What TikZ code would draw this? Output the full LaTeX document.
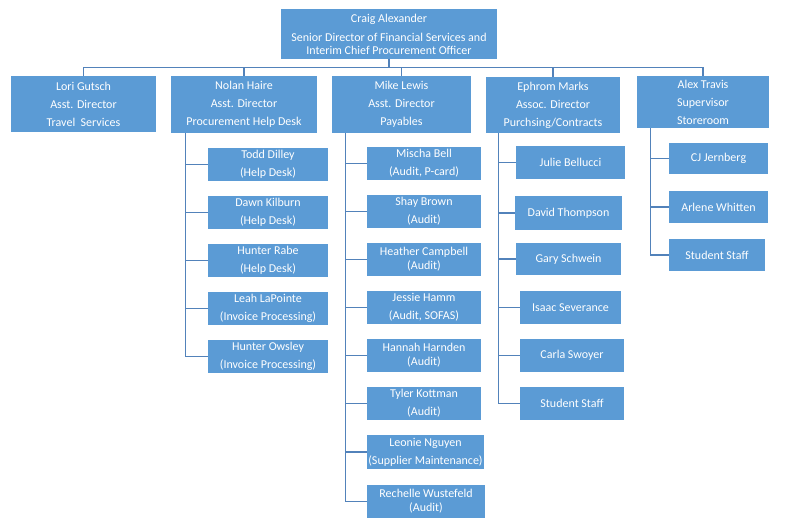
\documentclass[tikz,border=0pt]{standalone}
\usepackage{fontspec}
\setmainfont{Carlito}
\definecolor{cardblue}{HTML}{5B9BD5}
\definecolor{linkblue}{HTML}{5282BA}
\tikzset{
  card/.style={fill=cardblue, text=white, align=center, inner sep=0pt,
    font=\fontsize{12}{18}\selectfont},
  tight/.style={font=\fontsize{12}{14}\selectfont},
  link/.style={draw=linkblue, line width=1.2pt}
}
\begin{document}
\begin{tikzpicture}[x=1pt,y=-1pt]
\useasboundingbox[fill=white] (0,0) rectangle (786,531);

% top
\node[card, minimum width=216, minimum height=50, font=\fontsize{12}{13}\selectfont] (craig) at (389,34)
{Craig Alexander\\[6pt]Senior Director of Financial Services and\\Interim Chief Procurement Officer};

% directors
\node[card, minimum width=145, minimum height=56] (lori) at (83.5,104)
{Lori Gutsch\\Asst. Director\\Travel~~Services};
\node[card, minimum width=146, minimum height=57] (nolan) at (244,104.5)
{Nolan Haire\\Asst. Director\\Procurement Help Desk};
\node[card, minimum width=139, minimum height=57] (mike) at (401.5,104.5)
{Mike Lewis\\Asst. Director\\Payables};
\node[card, minimum width=134, minimum height=56] (ephrom) at (553,105)
{Ephrom Marks\\Assoc. Director\\Purchsing/Contracts};
\node[card, minimum width=132, minimum height=52] (alex) at (703,102)
{Alex Travis\\Supervisor\\Storeroom};

% help desk
\node[card, minimum width=120, minimum height=33] (todd) at (268,164.5) {Todd Dilley\\(Help Desk)};
\node[card, minimum width=120, minimum height=33] (dawn) at (268,212.5) {Dawn Kilburn\\(Help Desk)};
\node[card, minimum width=120, minimum height=33] (rabe) at (268,260.5) {Hunter Rabe\\(Help Desk)};
\node[card, minimum width=120, minimum height=33] (leah) at (268,308.5) {Leah LaPointe\\(Invoice Processing)};
\node[card, minimum width=120, minimum height=33] (owsley) at (268,356.5) {Hunter Owsley\\(Invoice Processing)};

% payables
\node[card, minimum width=114, minimum height=33] (mischa) at (424,163.5) {Mischa Bell\\(Audit, P-card)};
\node[card, minimum width=114, minimum height=33] (shay) at (424,211.5) {Shay Brown\\(Audit)};
\node[card, tight, minimum width=114, minimum height=33] (heather) at (424,259.5) {Heather Campbell\\(Audit)};
\node[card, minimum width=114, minimum height=33] (jessie) at (424,307.5) {Jessie Hamm\\(Audit, SOFAS)};
\node[card, tight, minimum width=114, minimum height=33] (hannah) at (424,355.5) {Hannah Harnden\\(Audit)};
\node[card, minimum width=114, minimum height=33] (tyler) at (424,403.5) {Tyler Kottman\\(Audit)};
\node[card, minimum width=117, minimum height=34] (leonie) at (425.5,452) {Leonie Nguyen\\(Supplier Maintenance)};
\node[card, tight, minimum width=118, minimum height=33] (rechelle) at (426,501.5) {Rechelle Wustefeld\\(Audit)};

% contracts
\node[card, minimum width=109, minimum height=33] (julie) at (570.5,162.5) {Julie Bellucci};
\node[card, minimum width=107, minimum height=34] (david) at (568.5,213) {David Thompson};
\node[card, minimum width=105, minimum height=32] (gary) at (568.5,259) {Gary Schwein};
\node[card, minimum width=101, minimum height=33] (isaac) at (570.5,307.5) {Isaac Severance};
\node[card, minimum width=104, minimum height=33] (carla) at (572,355.5) {Carla Swoyer};
\node[card, minimum width=104, minimum height=33] (pstaff) at (572,403.5) {Student Staff};

% storeroom
\node[card, minimum width=99, minimum height=31] (cj) at (718.5,158.5) {CJ Jernberg};
\node[card, minimum width=99, minimum height=32] (arlene) at (718.5,207) {Arlene Whitten};
\node[card, minimum width=96, minimum height=32] (sstaff) at (717,255) {Student Staff};

% top bus
\draw[link] (craig.south) -- ++(0,8) -| (lori.north);
\draw[link] (craig.south) -- ++(0,8) -| (nolan.north);
\draw[link] (craig.south) -- ++(0,8) -| (mike.north);
\draw[link] (craig.south) -- ++(0,8) -| (ephrom.north);
\draw[link] (craig.south) -- ++(0,8) -| (alex.north);

% staff lines
\foreach \n in {todd,dawn,rabe,leah,owsley}
  \draw[link] ([xshift=15]nolan.south west) |- (\n.west);
\foreach \n in {mischa,shay,heather,jessie,hannah,tyler,leonie,rechelle}
  \draw[link] ([xshift=14]mike.south west) |- (\n.west);
\foreach \n in {julie,david,gary,isaac,carla,pstaff}
  \draw[link] ([xshift=13]ephrom.south west) |- (\n.west);
\foreach \n in {cj,arlene,sstaff}
  \draw[link] ([xshift=14]alex.south west) |- (\n.west);
\end{tikzpicture}
\end{document}
